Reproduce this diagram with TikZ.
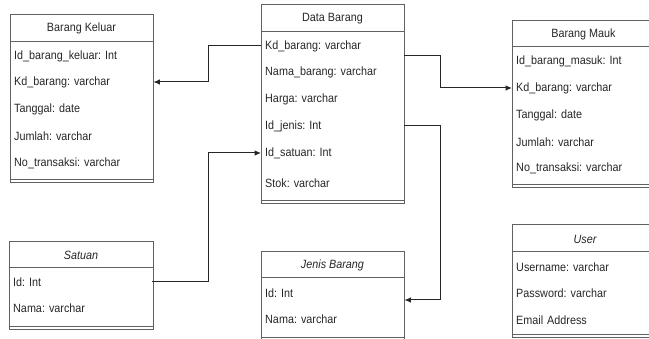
\documentclass[tikz,border=0pt]{standalone}
\usepackage{fontspec}
\setmainfont{Liberation Sans}[FakeStretch=0.9]
\frenchspacing
\usetikzlibrary{arrows.meta}

\tikzstyle{tabel}=[draw=black!62,line width=1pt]
\tikzstyle{judul}=[text=black!85,font=\fontsize{12}{14}\selectfont]
\tikzstyle{kolom}=[anchor=west,inner xsep=4pt,inner ysep=0pt,text width=135pt,align=left,text=black!85,font=\fontsize{12}{14}\selectfont]
\tikzstyle{relasi}=[->,draw=black!85,line width=1pt]

\begin{document}
\begin{tikzpicture}[x=1pt,y=-1pt,>={Latex[length=6.5pt,width=5.5pt]}]
  \useasboundingbox (0,0) rectangle (649,339);
  \clip (0,0) rectangle (649,339);

  % Barang Keluar
  \draw[tabel] (10,15) rectangle (153,183);
  \draw[tabel] (10,42) -- (153,42) (10,180) -- (153,180);
  \node[judul] (bk) at (81.5,28.5) {Barang Keluar};
  \node[kolom] (bk-id) at (10,56) {Id\_barang\_keluar: Int};
  \node[kolom] (bk-kd) at (10,82) {Kd\_barang: varchar};
  \node[kolom] (bk-tgl) at (10,109) {Tanggal: date};
  \node[kolom] (bk-jml) at (10,136) {Jumlah: varchar};
  \node[kolom] (bk-no) at (10,163) {No\_transaksi: varchar};

  % Data Barang
  \draw[tabel] (261,5) rectangle (404,204);
  \draw[tabel] (261,32) -- (404,32) (261,201) -- (404,201);
  \node[judul] (db) at (332.5,18.5) {Data Barang};
  \node[kolom] (db-kd) at (261,46) {Kd\_barang: varchar};
  \node[kolom] (db-nama) at (261,72) {Nama\_barang: varchar};
  \node[kolom] (db-harga) at (261,99) {Harga: varchar};
  \node[kolom] (db-jenis) at (261,126) {Id\_jenis: Int};
  \node[kolom] (db-satuan) at (261,153) {Id\_satuan: Int};
  \node[kolom] (db-stok) at (261,183) {Stok: varchar};

  % Barang Mauk
  \draw[tabel] (512,21) rectangle (655,188);
  \draw[tabel] (512,47) -- (655,47) (512,185) -- (655,185);
  \node[judul] (bm) at (583.5,34) {Barang Mauk};
  \node[kolom] (bm-id) at (512,61) {Id\_barang\_masuk: Int};
  \node[kolom] (bm-kd) at (512,88) {Kd\_barang: varchar};
  \node[kolom] (bm-tgl) at (512,115) {Tanggal: date};
  \node[kolom] (bm-jml) at (512,142) {Jumlah: varchar};
  \node[kolom] (bm-no) at (512,168) {No\_transaksi: varchar};

  % Satuan
  \draw[tabel] (9,242) rectangle (153,330);
  \draw[tabel] (9,268) -- (153,268) (9,327) -- (153,327);
  \node[judul] (st) at (81,255) {\itshape Satuan};
  \node[kolom] (st-id) at (9,282) {Id: Int};
  \node[kolom] (st-nama) at (9,308) {Nama: varchar};

  % Jenis Barang
  \draw[tabel] (261,252) rectangle (404,341);
  \draw[tabel] (261,278) -- (404,278) (261,338) -- (404,338);
  \node[judul] (jb) at (332.5,265) {\itshape Jenis Barang};
  \node[kolom] (jb-id) at (261,293) {Id: Int};
  \node[kolom] (jb-nama) at (261,319) {Nama: varchar};

  % User
  \draw[tabel] (512,225) rectangle (655,338);
  \draw[tabel] (512,252) -- (655,252) (512,335) -- (655,335);
  \node[judul] (us) at (585,239) {\itshape User};
  \node[kolom] (us-user) at (512,267) {Username: varchar};
  \node[kolom] (us-pass) at (512,293) {Password: varchar};
  \node[kolom] (us-mail) at (512,320) {Email Address};

  % relasi
  \coordinate (kiri) at (208,0);
  \coordinate (kanan) at (440,0);
  \draw[relasi] (db-kd.west) -- (db-kd.west -| kiri) |- (bk-kd.east);
  \draw[relasi] ([yshift=-10pt]db-kd.east) -- ([yshift=-10pt]db-kd.east -| kanan) |- (bm-kd.west);
  \draw[relasi] (db-jenis.east) -- (db-jenis.east -| kanan) |- ([yshift=-7pt]jb-id.east);
  \draw[relasi] (st-id.east) -- (st-id.east -| kiri) |- (db-satuan.west);
\end{tikzpicture}
\end{document}
